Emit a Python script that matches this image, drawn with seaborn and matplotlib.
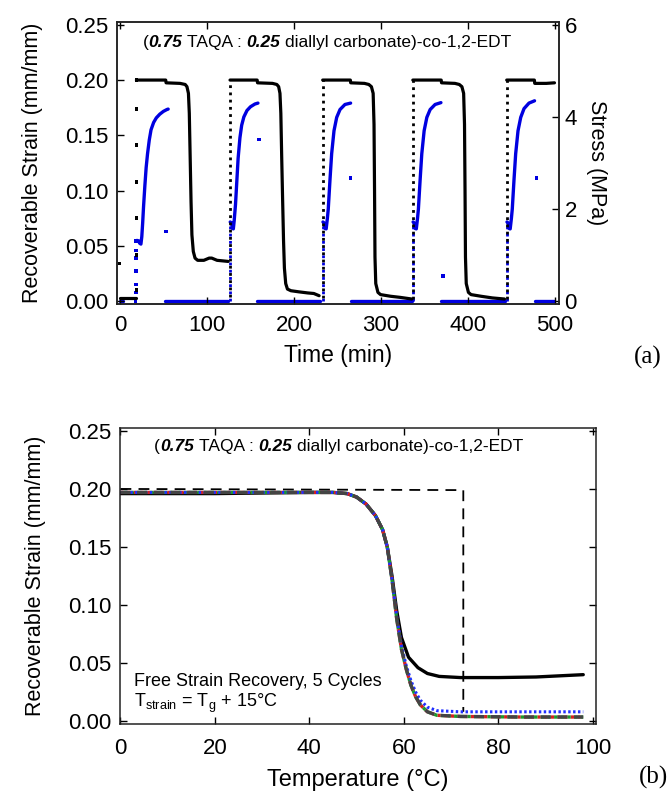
import matplotlib
matplotlib.use("Agg")
import matplotlib.pyplot as plt
import pandas as pd
import seaborn as sns

sns.set_style("ticks")
plt.rcParams["font.family"] = ["Liberation Sans", "DejaVu Sans"]
plt.rcParams["mathtext.fontset"] = "custom"
plt.rcParams["mathtext.rm"] = "Liberation Sans"
plt.rcParams["mathtext.it"] = "Liberation Sans:italic"
plt.rcParams["mathtext.bf"] = "Liberation Sans:bold"
for key in ["text.color", "axes.labelcolor", "xtick.color", "ytick.color"]:
    plt.rcParams[key] = "black"

# ---------------- (a) cyclic programming: strain (mm/mm) and stress (MPa) vs time (min)
pre_strain_t = [0, 18.9]
pre_strain = [0.003, 0.003]
pre_stress_t = [0, 3]
pre_stress = [0, 0]

c1_strain_t = [18.9, 52.6, 53.0, 69, 75, 77, 78.7, 79.7, 80.7, 81.7, 82.7, 84.3, 86.3, 89.3,
               96.4, 102.5, 105.5, 111.6, 124.4]
c1_strain = [0.200, 0.200, 0.1975, 0.197, 0.196, 0.194, 0.188, 0.170, 0.130, 0.090, 0.060,
             0.045, 0.039, 0.037, 0.037, 0.039, 0.039, 0.037, 0.036]
c2_strain_t = [126.5, 157.7, 158.1, 175.3, 180.3, 182.4, 183.9, 184.9, 185.9, 187.0, 188.0,
               189.0, 190.5, 192.5, 196.5, 205.6, 215.8, 222.8, 228.9]
c2_strain = [0.200, 0.200, 0.1975, 0.197, 0.196, 0.194, 0.188, 0.170, 0.130, 0.090, 0.055,
             0.030, 0.016, 0.011, 0.0095, 0.0085, 0.0075, 0.007, 0.005]
c3_strain_t = [233.0, 264.8, 265.2, 281, 286, 289, 291, 292, 292.6, 293.1, 294, 296.5, 299.5,
               311, 322, 335.4]
c3_strain = [0.200, 0.200, 0.1975, 0.197, 0.196, 0.194, 0.188, 0.160, 0.100, 0.040, 0.016,
             0.008, 0.006, 0.0045, 0.0035, 0.002]
c4_strain_t = [336.6, 369.2, 369.6, 385, 390, 393, 395, 396, 396.6, 397.1, 398, 400.5, 403.5,
               415, 428, 442]
c4_strain = [0.200, 0.200, 0.1975, 0.197, 0.196, 0.194, 0.188, 0.160, 0.100, 0.040, 0.016,
             0.008, 0.006, 0.0045, 0.003, 0.002]
c5_strain_t = [444.5, 476.3, 476.7, 490, 499.4]
c5_strain = [0.200, 0.200, 0.197, 0.197, 0.1975]

c1_stress_t = [19.5, 21.5, 22.6, 24.1, 25.1, 26.1, 27.1, 28.6, 30.1, 31.7, 33.7, 35.7, 38.7,
               41.8, 45.8, 49.9, 53.9, 55.4]
c1_stress = [1.32, 1.31, 1.26, 1.24, 1.40, 1.70, 2.05, 2.50, 2.90, 3.20, 3.50, 3.72, 3.88,
             3.98, 4.06, 4.12, 4.16, 4.17]
c2_stress_t = [126.7, 128.3, 129.3, 130.3, 131.3, 132.8, 134.3, 135.8, 137.9, 139.9, 142.4,
               146.0, 150.0, 155.1, 158.6]
c2_stress = [1.72, 1.70, 1.58, 1.57, 1.75, 2.10, 2.60, 3.10, 3.55, 3.82, 4.00, 4.14, 4.22,
             4.28, 4.30]
c3_stress_t = [233.3, 234.6, 235.6, 237.0, 238.4, 239.4, 241.4, 243.3, 246.0, 249.1, 252.9,
               258.6, 265.1]
c3_stress = [1.72, 1.70, 1.58, 1.57, 1.80, 2.00, 2.64, 3.20, 3.70, 3.99, 4.16, 4.27, 4.30]
c4_stress_t = [336.9, 338.2, 339.2, 340.6, 342.0, 343.0, 345.0, 346.9, 349.6, 352.7, 356.5,
               362.2, 368.9]
c4_stress = [1.72, 1.70, 1.58, 1.57, 1.80, 2.00, 2.64, 3.20, 3.70, 3.99, 4.16, 4.27, 4.31]
c5_stress_t = [444.8, 446.1, 447.1, 448.5, 449.9, 450.9, 452.9, 454.8, 457.5, 460.6, 464.4,
               470.1, 476.5]
c5_stress = [1.72, 1.70, 1.58, 1.57, 1.80, 2.00, 2.64, 3.20, 3.70, 3.99, 4.18, 4.30, 4.35]

# unloaded (zero stress) intervals, start and end times
unload_start = [52.2, 157.7, 265.0, 369.0, 476.5]
unload_end = [124.4, 229.9, 335.4, 442.0, 499.4]

# loading steps of cycles 2-5 (sampled sparsely, drawn dotted)
load_t = [126.5, 233.0, 336.6, 444.5]
load_strain_lo = [0.004, 0.003, 0.002, 0.002]
load_stress_hi = [1.72, 1.72, 1.72, 1.72]

# isolated readings
c1_load_strain_t = [18.9] * 7 + [-0.6]
c1_load_strain = [0.010, 0.042, 0.075, 0.108, 0.141, 0.174, 0.200, 0.034]
c1_load_stress_t = [17.8, 18.6, 18.6, 18.6, 18.6, 18.6, 18.8]
c1_load_stress = [0.0, 0.19, 0.36, 0.65, 0.94, 1.10, 1.30]
release_t = [53.3, 160.0, 265.1, 371.0, 478.8]
release_stress = [1.51, 3.51, 2.67, 0.55, 2.68]

# ---------------- (b) free strain recovery vs temperature (°C)
temp_c1 = [0, 10, 20, 30, 40, 45, 48, 50, 52, 54, 55.5, 56.5, 57.5, 58.5, 59.5, 61, 63, 65,
           67.5, 72, 80, 88, 93, 98]
recov_c1 = [0.196, 0.196, 0.196, 0.1965, 0.197, 0.197, 0.196, 0.193, 0.187, 0.177, 0.165,
            0.150, 0.125, 0.095, 0.072, 0.055, 0.046, 0.041, 0.0385, 0.0375, 0.0375, 0.038,
            0.039, 0.040]
temp_cn = [0, 10, 20, 30, 40, 45, 48, 50, 52, 54, 55.5, 56.5, 57.5, 58.5, 59.5, 60.5, 61.5,
           62.5, 63.5, 65, 67, 72, 85, 98]
recov_c2 = [0.197, 0.197, 0.197, 0.197, 0.197, 0.197, 0.196, 0.193, 0.187, 0.177, 0.165,
            0.150, 0.122, 0.090, 0.065, 0.048, 0.035, 0.025, 0.018, 0.012, 0.009, 0.008,
            0.008, 0.008]
recov_c3 = [0.197, 0.197, 0.197, 0.197, 0.197, 0.197, 0.196, 0.193, 0.187, 0.177, 0.165,
            0.150, 0.122, 0.088, 0.062, 0.045, 0.031, 0.021, 0.014, 0.008, 0.005, 0.004,
            0.0035, 0.0035]
recov_c4 = [0.197, 0.197, 0.197, 0.197, 0.197, 0.197, 0.196, 0.193, 0.187, 0.177, 0.165,
            0.150, 0.122, 0.088, 0.062, 0.045, 0.031, 0.021, 0.014, 0.008, 0.005, 0.004,
            0.0035, 0.0035]
recov_c5 = [0.197, 0.197, 0.197, 0.197, 0.197, 0.197, 0.196, 0.193, 0.187, 0.177, 0.165,
            0.150, 0.122, 0.088, 0.062, 0.045, 0.031, 0.021, 0.014, 0.008, 0.005, 0.004,
            0.0035, 0.0035]
program_temp = [0, 72.6, 72.6]
program_strain = [0.200, 0.199, 0.008]

BLUE = "#0000e0"
TICK_FS = 16
LABEL_FS = 15.5


def segments(pairs):
    frames = [pd.DataFrame({"t": t, "v": v, "seg": i}) for i, (t, v) in enumerate(pairs)]
    return pd.concat(frames, ignore_index=True)


def seg_lines(ax, pairs, color, **kw):
    sns.lineplot(data=segments(pairs), x="t", y="v", units="seg", estimator=None,
                 sort=False, color=color, legend=False, ax=ax, **kw)


def rich_text(ax, x, y, pieces, size):
    s0, kw0 = pieces[0]
    t = ax.text(x, y, s0, transform=ax.transAxes, fontsize=size, va="center",
                ha="left", **kw0)
    for s, gap, kw in pieces[1:]:
        t = ax.annotate(s, xy=(1, 0), xycoords=t, xytext=(gap, 0),
                        textcoords="offset points", va="bottom", ha="left",
                        fontsize=size, **kw)


def style_axes(ax):
    for sp in ax.spines.values():
        sp.set_linewidth(1.1)
        sp.set_color("#222222")
        sp.set_visible(True)


BI = dict(fontweight="bold", fontstyle="italic")
title_pieces = [("(", {}), ("0.75", 0, BI), ("TAQA :", 3.4, {}), ("0.25", 3.4, BI),
                ("diallyl carbonate)-co-1,2-EDT", 3.4, {})]

fig = plt.figure(figsize=(6.68, 7.95), dpi=100)

# ---- panel (a)
ax1 = fig.add_axes([117 / 668, 1 - 304 / 795, 442 / 668, 282 / 795])
ax1r = ax1.twinx()

seg_lines(ax1r, [(pre_stress_t, pre_stress)]
          + [([s, e], [0, 0]) for s, e in zip(unload_start, unload_end)]
          + [(c1_stress_t, c1_stress), (c2_stress_t, c2_stress), (c3_stress_t, c3_stress),
             (c4_stress_t, c4_stress), (c5_stress_t, c5_stress)],
          BLUE, lw=2.4)
seg_lines(ax1r, [([t, t], [0, h]) for t, h in zip(load_t, load_stress_hi)], BLUE,
          lw=2.0, linestyle=(0, (1.0, 1.6)))
sns.scatterplot(x=c1_load_stress_t + release_t, y=c1_load_stress + release_stress,
                ax=ax1r, color=BLUE, marker="s", s=7, edgecolor="none", legend=False)

seg_lines(ax1, [(pre_strain_t, pre_strain), (c1_strain_t, c1_strain),
                (c2_strain_t, c2_strain), (c3_strain_t, c3_strain),
                (c4_strain_t, c4_strain), (c5_strain_t, c5_strain)], "black", lw=2.3)
seg_lines(ax1, [([t, t], [lo, 0.2]) for t, lo in zip(load_t, load_strain_lo)], "black",
          lw=2.0, linestyle=(0, (1.0, 1.6)))
sns.scatterplot(x=c1_load_strain_t, y=c1_load_strain, ax=ax1, color="black", marker="s",
                s=7, edgecolor="none", legend=False)

ax1.set_zorder(ax1r.get_zorder() + 1)
ax1.patch.set_visible(False)

ax1.set_xlim(-3.4, 504.6)
ax1.set_ylim(-0.0025, 0.2525)
ax1r.set_ylim(-0.06, 6.06)
ax1.set_xticks(range(0, 501, 100))
ax1.set_yticks([0, 0.05, 0.10, 0.15, 0.20, 0.25])
ax1.set_yticklabels(["0.00", "0.05", "0.10", "0.15", "0.20", "0.25"])
ax1r.set_yticks([0, 2, 4, 6])
ax1.tick_params(direction="in", length=5, width=1, top=True, right=False,
                labelsize=TICK_FS)
ax1.tick_params(axis="x", pad=8)
ax1.tick_params(axis="y", pad=6)
ax1r.tick_params(direction="in", length=5, width=1, labelsize=TICK_FS, pad=4)
ax1.set_xlabel("Time (min)", fontsize=LABEL_FS + 1, labelpad=6)
ax1.set_ylabel("Recoverable Strain (mm/mm)", fontsize=LABEL_FS, labelpad=16)
ax1r.set_ylabel("Stress (MPa)", fontsize=LABEL_FS, rotation=270, labelpad=22)
style_axes(ax1)
style_axes(ax1r)
rich_text(ax1, 0.058, 0.928, title_pieces, 12.5)

# ---- panel (b)
ax2 = fig.add_axes([120 / 668, 1 - 724 / 795, 476 / 668, 296 / 795])
sns.lineplot(x=program_temp, y=program_strain, ax=ax2, color="black", lw=1.3,
             sort=False, estimator=None, linestyle=(0, (6, 4)))
sns.lineplot(x=temp_c1, y=recov_c1, ax=ax2, color="black", lw=2.4, sort=False,
             estimator=None)
sns.lineplot(x=temp_cn, y=recov_c3, ax=ax2, color="#d42020", lw=2.4, sort=False,
             estimator=None, linestyle=(0, (1, 1)))
sns.lineplot(x=temp_cn, y=recov_c4, ax=ax2, color="#1c9a2c", lw=2.4, sort=False,
             estimator=None, linestyle=(1, (1, 1)))
sns.lineplot(x=temp_cn, y=recov_c2, ax=ax2, color="#2030ff", lw=2.2, sort=False,
             estimator=None, linestyle=(0, (0.8, 0.8)))
sns.lineplot(x=temp_cn, y=recov_c5, ax=ax2, color="#444444", lw=2.4, sort=False,
             estimator=None, linestyle=(0, (3, 2)))

ax2.set_xlim(-0.1, 100.7)
ax2.set_ylim(-0.0025, 0.2525)
ax2.set_xticks(range(0, 101, 20))
ax2.set_yticks([0, 0.05, 0.10, 0.15, 0.20, 0.25])
ax2.set_yticklabels(["0.00", "0.05", "0.10", "0.15", "0.20", "0.25"])
ax2.tick_params(direction="in", length=5, width=1, top=True, right=True,
                labelsize=TICK_FS)
ax2.tick_params(axis="x", pad=10)
ax2.tick_params(axis="y", pad=6)
ax2.set_xlabel("Temperature (°C)", fontsize=LABEL_FS + 1.5, labelpad=7)
ax2.set_ylabel("Recoverable Strain (mm/mm)", fontsize=LABEL_FS, labelpad=16)
style_axes(ax2)
rich_text(ax2, 0.072, 0.936, title_pieces, 12.5)
ax2.text(0.03, 0.142, "Free Strain Recovery, 5 Cycles", transform=ax2.transAxes,
         fontsize=13, va="center", ha="left")
ax2.text(0.03, 0.068, r"T$_{\mathrm{strain}}$ = T$_{\mathrm{g}}$ + 15°C",
         transform=ax2.transAxes, fontsize=13, va="center", ha="left")

fig.text(648 / 668, 1 - 357 / 795, "(a)", fontsize=18, family="Liberation Serif",
         ha="center", va="center")
fig.text(653 / 668, 1 - 777 / 795, "(b)", fontsize=18, family="Liberation Serif",
         ha="center", va="center")

fig.savefig("out.png", dpi=100)
